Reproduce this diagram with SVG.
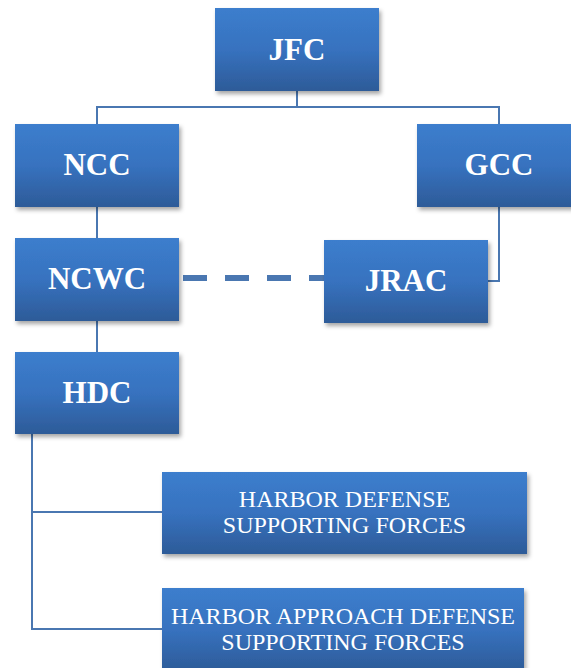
<svg xmlns="http://www.w3.org/2000/svg" width="571" height="668" viewBox="0 0 571 668">
<defs>
<linearGradient id="g" x1="0" y1="0" x2="0" y2="1">
<stop offset="0" stop-color="#3c7ecd"/>
<stop offset="0.5" stop-color="#3772bf"/>
<stop offset="1" stop-color="#2d5b98"/>
</linearGradient>
<filter id="sh" x="-10%" y="-10%" width="125%" height="130%">
<feDropShadow dx="2" dy="3" stdDeviation="2.2" flood-color="#000" flood-opacity="0.35"/>
</filter>
<style>
.box{fill:url(#g);filter:url(#sh);}
.big{font-family:"Liberation Serif","Times New Roman",serif;font-weight:bold;font-size:31px;fill:#fff;text-anchor:middle;}
.small{font-family:"Liberation Serif","Times New Roman",serif;font-size:24px;fill:#fff;text-anchor:middle;}
.ln{stroke:#4a77b1;stroke-width:2;fill:none;}
.dash{stroke:#4a77b1;stroke-width:6;fill:none;stroke-dasharray:24 18;}
</style>
</defs>
<g id="connectors">
<polyline class="ln" points="297,91 297,107"/>
<polyline class="ln" points="97,124 97,107 499,107 499,124"/>
<polyline class="ln" points="97,207 97,238"/>
<polyline class="ln" points="97,321 97,352"/>
<polyline class="ln" points="499,207 499,281 488,281"/>
<line class="dash" x1="183" y1="278" x2="324" y2="278"/>
<polyline class="ln" points="32,434 32,629 162,629"/>
<polyline class="ln" points="32,512 162,512"/>
</g>
<g id="JFC"><rect class="box" x="215" y="8" width="164" height="83"/><text class="big" x="297" y="60">JFC</text></g>
<g id="NCC"><rect class="box" x="15" y="124" width="164" height="83"/><text class="big" x="97" y="175">NCC</text></g>
<g id="GCC"><rect class="box" x="417" y="124" width="164" height="83"/><text class="big" x="499" y="175">GCC</text></g>
<g id="NCWC"><rect class="box" x="15" y="238" width="164" height="83"/><text class="big" x="97" y="289">NCWC</text></g>
<g id="JRAC"><rect class="box" x="324" y="240" width="164" height="83"/><text class="big" x="406" y="291">JRAC</text></g>
<g id="HDC"><rect class="box" x="15" y="352" width="164" height="82"/><text class="big" x="97" y="403">HDC</text></g>
<g id="HDSF"><rect class="box" x="162" y="472" width="365" height="82"/><text class="small" x="344.5" y="507">HARBOR DEFENSE</text><text class="small" x="344.5" y="533">SUPPORTING FORCES</text></g>
<g id="HADSF"><rect class="box" x="162" y="588" width="362" height="83"/><text class="small" x="343" y="624">HARBOR APPROACH DEFENSE</text><text class="small" x="343" y="650">SUPPORTING FORCES</text></g>
</svg>
